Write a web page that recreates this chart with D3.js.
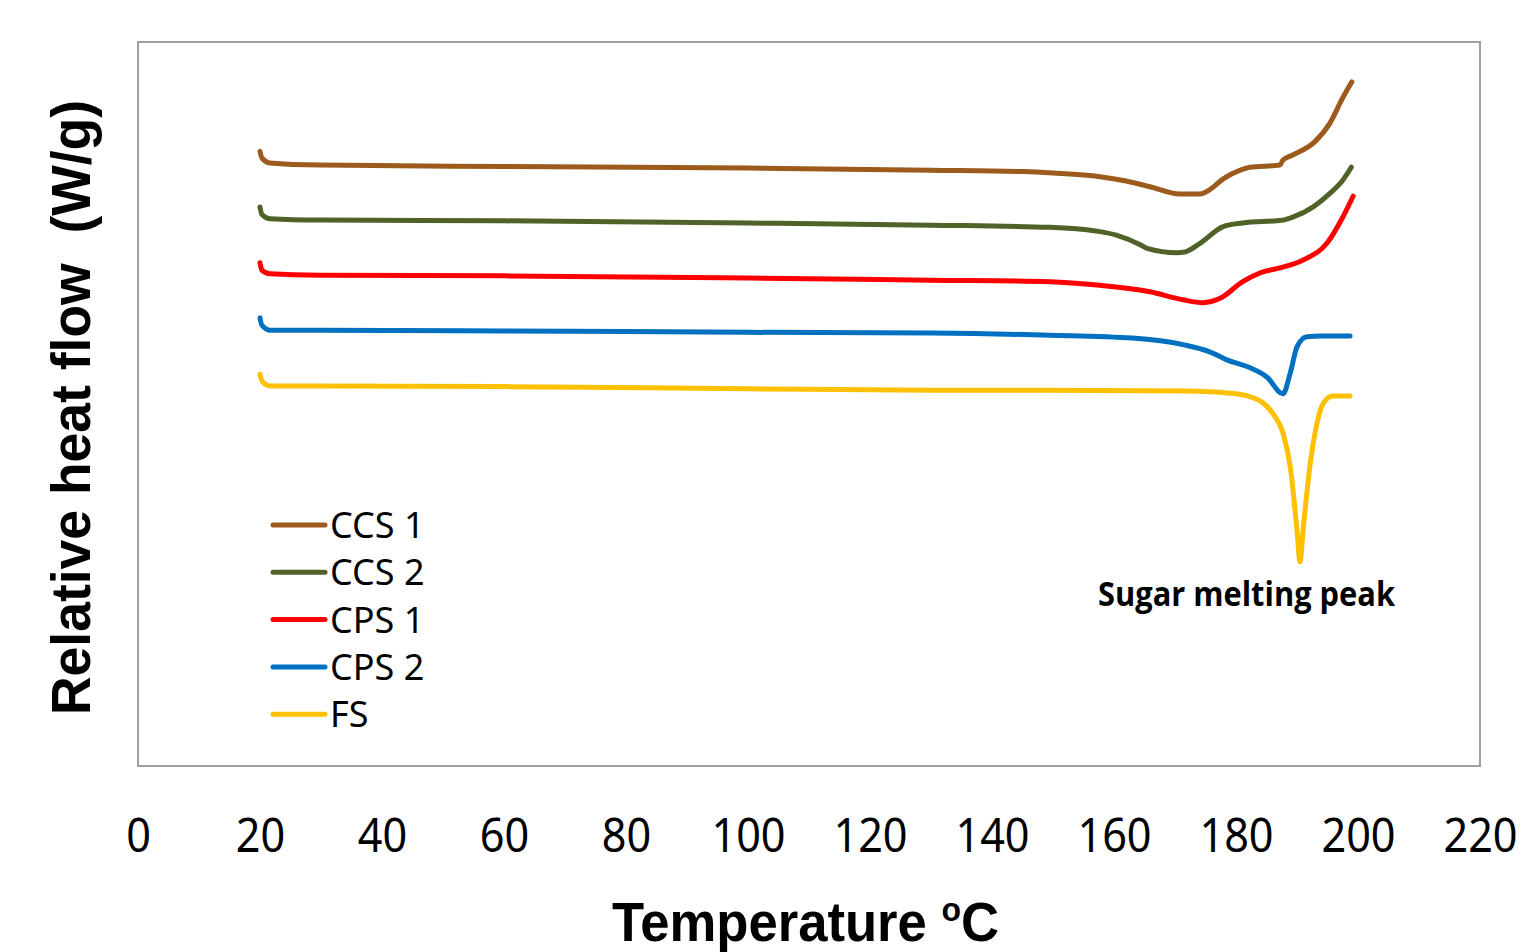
<!DOCTYPE html>
<html>
  <head>
    <meta charset="utf-8">
    <title>DSC curves</title>
    <script src="https://cdn.jsdelivr.net/npm/d3@7"></script>
    <style>
      body { margin: 0; background: #fff; }
    </style>
  </head>
  <body>
    <script>

      // temperature (°C) and relative heat flow (arbitrary units, no y ticks in the original)
      var ccs1T = [20.0, 20.3, 21.6, 30, 60, 100, 130, 145, 150, 157.7, 162, 165.9, 170.8, 174.1, 175.7, 177.9, 180.7, 182.3, 187.2, 187.7, 189.3, 192.9, 195.4, 197.5, 199.0];
      var ccs1V = [84.9, 84.0, 83.3, 83.0, 82.8, 82.6, 82.3, 82.1, 81.9, 81.4, 80.8, 80.0, 79.0, 79.0, 79.6, 81.1, 82.3, 82.7, 83.0, 83.7, 84.4, 86.2, 88.8, 92.3, 94.5];

      var ccs2T = [20.0, 20.3, 21.6, 30, 60, 100, 130, 149.5, 157, 160.5, 164.3, 165.4, 170.3, 171.6, 174.1, 177.9, 181.1, 187.7, 189.3, 192.6, 195.4, 197.5, 198.9];
      var ccs2V = [77.2, 76.2, 75.6, 75.4, 75.3, 75.0, 74.7, 74.4, 73.9, 73.3, 72.0, 71.5, 70.9, 71.0, 72.2, 74.5, 75.0, 75.4, 75.8, 77.2, 79.1, 80.9, 82.7];

      var cps1T = [20.0, 20.3, 21.6, 30, 60, 100, 130, 149.5, 157.7, 165.9, 171.3, 174.6, 177.4, 181.1, 183.9, 187.7, 191.0, 194.9, 197.5, 199.2];
      var cps1V = [69.5, 68.5, 68.0, 67.8, 67.7, 67.4, 67.1, 66.9, 66.4, 65.5, 64.4, 64.0, 64.6, 66.9, 68.1, 68.9, 69.9, 72.2, 75.8, 78.7];

      var cps2T = [20.0, 20.3, 21.6, 30, 60, 100, 130, 149.5, 163.0, 171.3, 175.7, 178.5, 182.3, 185.1, 187.7, 188.9, 190.0, 191.6, 194.1, 198.7];
      var cps2V = [61.9, 60.9, 60.2, 60.2, 60.1, 59.9, 59.8, 59.5, 59.1, 58.2, 57.2, 56.1, 55.0, 53.7, 51.4, 54.3, 57.9, 59.3, 59.4, 59.4];

      var fsT = [20.0, 20.3, 21.6, 30, 60, 100, 130, 149.5, 172.0, 179.0, 182.3, 184.5, 186.2, 187.7, 188.9, 190.0, 190.5, 191.0, 192.1, 193.3, 194.3, 195.9, 198.7];
      var fsV = [54.1, 53.2, 52.5, 52.5, 52.4, 52.1, 51.9, 51.9, 51.8, 51.5, 51.0, 50.1, 48.5, 46.0, 41.3, 32.6, 28.2, 32.6, 41.3, 47.4, 50.1, 51.1, 51.1];

      var seriesNames = ["CCS 1", "CCS 2", "CPS 1", "CPS 2", "FS"];
      var seriesColors = ["#9c5a1c", "#4f6228", "#ff0000", "#0070c0", "#ffc000"];
      var seriesT = [ccs1T, ccs2T, cps1T, cps2T, fsT];
      var seriesV = [ccs1V, ccs2V, cps1V, cps2V, fsV];

      var xTicks = [0, 20, 40, 60, 80, 100, 120, 140, 160, 180, 200, 220];

      var svg = d3.select("body")
                  .append("svg")
                  .attr("width", 1521)
                  .attr("height", 952);

      var plotL = 138, plotR = 1480, plotT = 42, plotB = 766;

      var x = d3.scaleLinear().domain([0, 220]).range([plotL, plotR]);
      var y = d3.scaleLinear().domain([0, 100]).range([plotB, plotT]);

      // plot frame
      svg.append("rect")
         .attr("x", plotL)
         .attr("y", plotT)
         .attr("width", plotR - plotL)
         .attr("height", plotB - plotT)
         .attr("fill", "none")
         .attr("stroke", "#a0a0a0")
         .attr("stroke-width", 2);

      // x axis labels only (no axis line / ticks in the original)
      var xAxis = d3.axisBottom(x).tickValues(xTicks).tickSize(0).tickPadding(0);
      var gx = svg.append("g")
                  .attr("transform", "translate(0,852)")
                  .call(xAxis);
      gx.select(".domain").remove();
      gx.selectAll("text")
        .attr("dy", 0)
        .attr("font-family", "'Noto Sans', sans-serif")
        .attr("font-size", 48)
        .attr("fill", "#000")
        .attr("transform", "scale(0.9,1)");

      var line = d3.line()
                   .x(function(d) { return x(d[0]); })
                   .y(function(d) { return y(d[1]); })
                   .curve(d3.curveMonotoneX);

      seriesNames.forEach(function(name, i) {
        var pts = seriesT[i].map(function(t, j) { return [t, seriesV[i][j]]; });
        svg.append("path")
           .datum(pts)
           .attr("d", line)
           .attr("fill", "none")
           .attr("stroke", seriesColors[i])
           .attr("stroke-width", 5)
           .attr("stroke-linecap", "round")
           .attr("stroke-linejoin", "round");
      });

      // legend
      var legend = svg.append("g");
      seriesNames.forEach(function(name, i) {
        var ly = 525 + i * 47.3;
        legend.append("line")
              .attr("x1", 273).attr("x2", 325)
              .attr("y1", ly).attr("y2", ly)
              .attr("stroke", seriesColors[i])
              .attr("stroke-width", 5)
              .attr("stroke-linecap", "round");
        legend.append("text")
              .attr("x", 330)
              .attr("y", ly + 13)
              .attr("font-family", "'Noto Sans', sans-serif")
              .attr("font-size", 36)
              .attr("fill", "#000")
              .text(name);
      });

      // annotation
      svg.append("text")
         .attr("x", 1098)
         .attr("y", 606)
         .attr("font-family", "'Open Sans', sans-serif")
         .attr("font-weight", "bold")
         .attr("font-size", 34)
         .attr("textLength", 297)
         .attr("lengthAdjust", "spacingAndGlyphs")
         .attr("fill", "#000")
         .text("Sugar melting peak");

      // axis titles
      var xt = svg.append("text")
         .attr("transform", "translate(612,941) scale(0.94,1)")
         .attr("font-family", "'Liberation Sans', Arial, sans-serif")
         .attr("font-weight", "bold")
         .attr("font-size", 56)
         .attr("fill", "#000");
      xt.append("tspan").text("Temperature ");
      xt.append("tspan").attr("font-size", 34).attr("dy", -20).text("o");
      xt.append("tspan").attr("dy", 20).text("C");

      svg.append("text")
         .attr("transform", "translate(90,715) rotate(-90)")
         .attr("x", 0)
         .attr("y", 0)
         .attr("font-family", "'Liberation Sans', Arial, sans-serif")
         .attr("font-weight", "bold")
         .attr("font-size", 56)
         .attr("textLength", 615)
         .attr("lengthAdjust", "spacingAndGlyphs")
         .style("white-space", "pre")
         .attr("fill", "#000")
         .text("Relative heat flow  (W/g)");

    </script>
  </body>
</html>
